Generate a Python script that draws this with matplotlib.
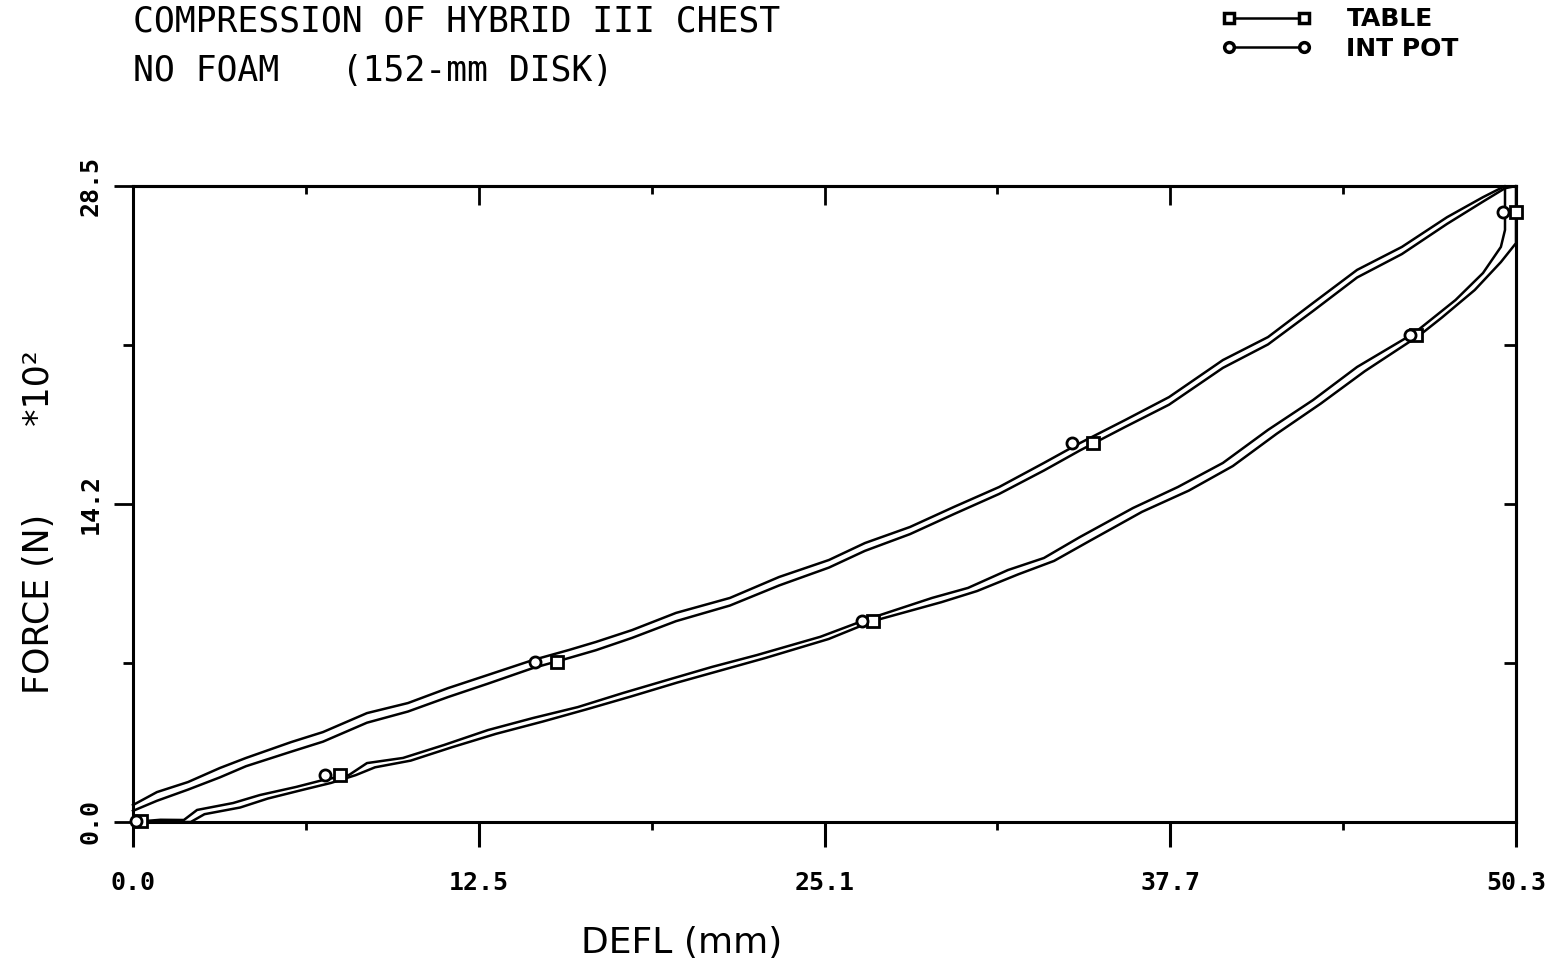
import numpy as np
import matplotlib
matplotlib.use("Agg")
import matplotlib.pyplot as plt
from matplotlib.lines import Line2D

# axis ranges / tick labels as printed on the plot
X_MAX = 50.3
Y_MAX = 28.5
x_tick_labels = ["0.0", "12.5", "25.1", "37.7", "50.3"]
y_tick_labels = ["0.0", "14.2", "28.5"]

# loading branch, DEFL (mm) vs FORCE (N x 10^2)
intpot_load_defl = [0.0, 0.87, 2.0, 3.16, 4.11, 5.75, 6.91, 8.51, 10.0, 11.46, 12.91, 14.55,
                    15.86, 16.84, 18.15, 19.75, 21.71, 23.5, 25.31, 26.62, 28.26, 29.86, 31.5,
                    33.13, 34.44, 36.08, 37.68, 39.64, 41.28, 42.92, 44.52, 46.15, 47.79, 49.1, 49.9]
intpot_load_force = [0.76, 1.34, 1.79, 2.42, 2.87, 3.58, 4.03, 4.88, 5.33, 6.0, 6.59, 7.26,
                     7.71, 8.07, 8.6, 9.37, 10.04, 10.98, 11.74, 12.5, 13.22, 14.12, 15.01,
                     16.09, 16.98, 18.01, 19.04, 20.7, 21.73, 23.26, 24.74, 25.77, 27.1, 28.0, 28.5]

table_load_defl = [0.0, 0.87, 2.0, 3.16, 4.11, 5.75, 6.91, 8.51, 10.0, 11.46, 12.91, 14.55,
                   15.86, 16.84, 18.15, 19.75, 21.71, 23.5, 25.31, 26.62, 28.26, 29.86, 31.5,
                   33.13, 34.44, 36.08, 37.68, 39.64, 41.28, 42.92, 44.52, 46.15, 47.79, 49.1, 49.9, 50.3]
table_load_force = [0.5, 0.95, 1.45, 2.0, 2.5, 3.15, 3.6, 4.45, 4.95, 5.6, 6.2, 6.9,
                    7.35, 7.7, 8.25, 9.0, 9.7, 10.6, 11.4, 12.15, 12.9, 13.8, 14.7,
                    15.75, 16.65, 17.7, 18.7, 20.35, 21.4, 22.9, 24.4, 25.45, 26.8, 27.8, 28.4, 28.5]

# unloading branch
intpot_unload_defl = [49.9, 49.9, 49.75, 49.1, 48.1, 46.6, 44.52, 42.92, 41.28, 39.64, 38.0, 36.37,
                      34.44, 33.13, 31.82, 30.37, 29.06, 26.62, 25.0, 22.69, 21.06, 19.42, 17.82,
                      16.18, 14.55, 12.91, 11.31, 9.82, 8.51, 7.86, 6.91, 5.93, 4.62, 3.64, 2.33,
                      1.85, 1.0, 0.0]
intpot_unload_force = [28.5, 26.53, 25.77, 24.6, 23.39, 21.91, 20.39, 18.91, 17.57, 16.09, 15.01, 14.07,
                       12.77, 11.83, 11.29, 10.49, 10.04, 9.05, 8.3, 7.48, 6.95, 6.36, 5.78,
                       5.15, 4.66, 4.12, 3.45, 2.87, 2.64, 2.11, 1.88, 1.57, 1.21, 0.85, 0.54,
                       0.09, 0.1, 0.0]

table_unload_defl = [50.3, 50.3, 49.75, 48.8, 47.6, 46.8, 44.8, 43.2, 41.6, 40.0, 38.4, 36.7,
                     34.8, 33.5, 32.2, 30.7, 29.4, 26.9, 25.3, 23.0, 21.4, 19.8, 18.1,
                     16.5, 14.9, 13.2, 11.6, 10.1, 8.8, 8.1, 7.2, 6.2, 4.9, 3.9, 2.6,
                     2.1, 1.0, 0.0]
table_unload_force = [28.5, 25.94, 25.09, 23.84, 22.6, 21.82, 20.2, 18.75, 17.4, 15.95, 14.85, 13.9,
                      12.6, 11.7, 11.1, 10.35, 9.85, 9.0, 8.2, 7.35, 6.8, 6.25, 5.62,
                      5.05, 4.5, 3.95, 3.35, 2.75, 2.45, 2.1, 1.75, 1.45, 1.05, 0.65, 0.35,
                      0.0, 0.0, 0.0]

# symbols drawn along each trace
table_mark_defl = [15.42, 34.92, 50.3, 46.66, 26.91, 7.53, 0.3]
table_mark_force = [7.17, 16.97, 27.33, 21.82, 9.01, 2.11, 0.05]
intpot_mark_defl = [14.62, 34.15, 49.83, 46.44, 26.51, 6.98, 0.1]
intpot_mark_force = [7.17, 16.97, 27.33, 21.82, 9.01, 2.11, 0.05]

plt.rcParams["font.family"] = ["DejaVu Sans"]

W, H = 1565, 961
fig = plt.figure(figsize=(W / 100, H / 100), dpi=100)
ax = fig.add_axes([133 / W, (H - 822) / H, (1516 - 133) / W, (822 - 186) / H])

line_kw = dict(color="black", lw=1.8, clip_on=False, zorder=3)
ax.plot(table_load_defl + table_unload_defl, table_load_force + table_unload_force, **line_kw)
ax.plot(intpot_load_defl + intpot_unload_defl, intpot_load_force + intpot_unload_force, **line_kw)

mark_kw = dict(ls="none", mfc="white", mec="black", mew=2.0, clip_on=False, zorder=4)
ax.plot(table_mark_defl, table_mark_force, marker="s", ms=9, **mark_kw)
ax.plot(intpot_mark_defl, intpot_mark_force, marker="o", ms=8, **mark_kw)

ax.set_xlim(0, X_MAX)
ax.set_ylim(0, Y_MAX)

xt = np.linspace(0, X_MAX, len(x_tick_labels))
yt = np.linspace(0, Y_MAX, len(y_tick_labels))
xt_minor = (xt[:-1] + xt[1:]) / 2
yt_minor = (yt[:-1] + yt[1:]) / 2

tick_font = dict(family="DejaVu Sans Mono", weight="bold", size=18)
ax.set_xticks(xt, x_tick_labels, **tick_font)
ax.set_xticks(xt_minor, minor=True)
ax.set_yticks(yt, y_tick_labels, rotation=90, va="center", **tick_font)
ax.set_yticks(yt_minor, minor=True)

ax.tick_params(axis="x", which="major", direction="out", length=18, width=2.2, pad=17)
ax.tick_params(axis="x", which="minor", direction="out", length=6, width=2.0)
ax.tick_params(axis="y", which="major", direction="out", length=14, width=2.0, pad=8)
ax.tick_params(axis="y", which="minor", direction="out", length=7, width=2.0)

for s in ax.spines.values():
    s.set_linewidth(2.2)

# inward ticks on the top and right frame
top = ax.secondary_xaxis("top")
top.set_xticks(xt[1:-1], labels=[])
top.set_xticks(xt_minor, minor=True)
top.tick_params(which="major", direction="in", length=14, width=2.0)
top.tick_params(which="minor", direction="in", length=6, width=2.0)
top.spines["top"].set_linewidth(2.2)

right = ax.secondary_yaxis("right")
right.set_yticks(yt[1:-1], labels=[])
right.set_yticks(yt_minor, minor=True)
right.tick_params(which="both", direction="in", length=9, width=2.0)
right.spines["right"].set_linewidth(2.2)

ax.set_xlabel("DEFL (mm)", fontsize=26)
ax.xaxis.set_label_coords((682 - 133) / 1383, -(926 - 822) / 636)
ax.set_ylabel("FORCE (N)        *10²", fontsize=25)
ax.yaxis.set_label_coords(-(133 - 56) / 1383, (822 - 522) / 636)

title_font = dict(family="DejaVu Sans Mono", size=25)
fig.text(133 / W, 1 - 21 / H, "COMPRESSION OF HYBRID III CHEST", va="center", ha="left", **title_font)
fig.text(133 / W, 1 - 71 / H, "NO FOAM   (152-mm DISK)", va="center", ha="left", **title_font)

handles = [
    Line2D([], [], color="black", lw=1.8, marker="s", ms=7, mfc="white", mec="black", mew=2.5),
    Line2D([], [], color="black", lw=1.8, marker="o", ms=7, mfc="white", mec="black", mew=2.5),
]
fig.legend(handles, ["TABLE", "INT POT"], loc="upper left", bbox_to_anchor=(1214 / W, 1.0),
           frameon=False, numpoints=2, handlelength=3.6, handletextpad=1.4, labelspacing=0.2,
           borderaxespad=0.2, borderpad=0.1, prop=dict(weight="bold", size=18))

plt.savefig("out.png", dpi=100)
